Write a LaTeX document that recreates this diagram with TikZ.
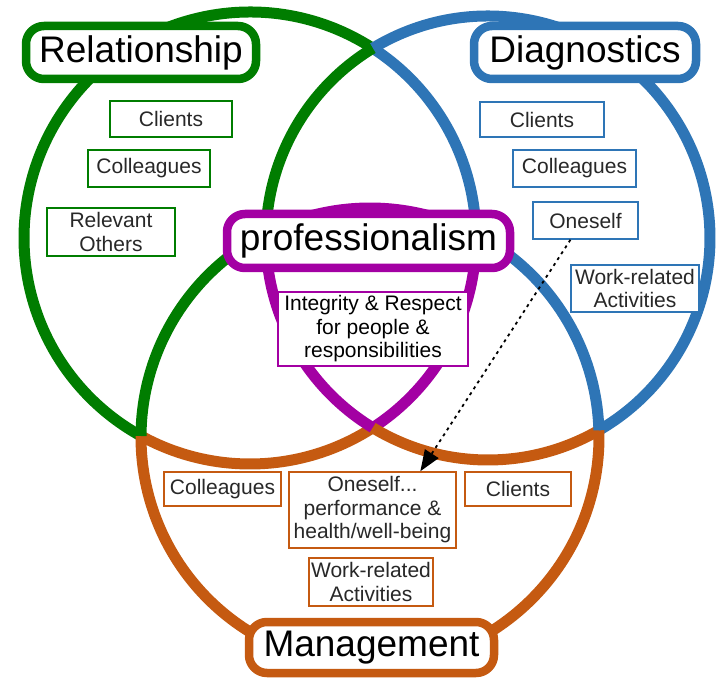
\documentclass[tikz,border=0pt]{standalone}
\usepackage{fontspec}
\setmainfont{Liberation Sans}
\usetikzlibrary{arrows.meta,calc}

\definecolor{relgreen}{RGB}{0,125,0}
\definecolor{diagblue}{RGB}{46,117,182}
\definecolor{mgmtorange}{RGB}{197,90,17}
\definecolor{profmag}{RGB}{163,0,163}
\definecolor{textgray}{RGB}{40,40,40}

% one coloured piece of a ring: colour, centre, start angle, end angle, radius
\newcommand{\ringarc}[5]{%
  \draw[ring,#1] ([shift={(#3:#5)}]#2) arc[start angle=#3, end angle=#4, radius=#5];}

\begin{document}
\begin{tikzpicture}[x=1pt,y=-1pt,
  ring/.style={line width=11pt},
  title/.style={draw=#1, line width=8.5pt, fill=white, rounded corners=18pt,
    inner sep=0pt, font=\fontsize{37}{44}\selectfont, text=black},
  item/.style={draw=#1, line width=1.5pt, fill=white, inner sep=0pt,
    align=center, font=\fontsize{21}{23.5}\selectfont, text=textgray},
  link/.style={line width=1.8pt, dash pattern=on 3pt off 4pt,
    -{Triangle[length=21pt,width=16pt]}},
]
\useasboundingbox (0,0) rectangle (716,679);

% centres of the three circles
\coordinate (cG) at (250,238);   % Relationship, r = 226
\coordinate (cB) at (488,238);   % Diagnostics,  r = 222
\coordinate (cM) at (370,437);   % Management,   r = 229

% Relationship circle
\ringarc{relgreen}{cG}{-57.1}{-241.17}{226}
\ringarc{diagblue}{cG}{-57.1}{-1.01}{226}
\ringarc{profmag}{cG}{-1.01}{57.1}{226}
\ringarc{mgmtorange}{cG}{57.1}{118.83}{226}

% Diagnostics circle
\ringarc{diagblue}{cB}{-121.27}{60.03}{222}
\ringarc{relgreen}{cB}{-121.27}{-178.71}{222}
\ringarc{profmag}{cB}{181.29}{121.27}{222}
\ringarc{mgmtorange}{cB}{121.27}{60.03}{222}

% Management circle
\ringarc{mgmtorange}{cM}{-1.68}{180.25}{229}
\ringarc{relgreen}{cM}{180.25}{243.0}{229}
\ringarc{profmag}{cM}{243.0}{297.56}{229}
\ringarc{diagblue}{cM}{297.56}{358.32}{229}

% circle titles
\node[title=relgreen, minimum width=230pt, minimum height=53pt] (rel) at (141,52.5) {Relationship};
\node[title=diagblue, minimum width=222pt, minimum height=53pt] (diag) at (585,52.5) {Diagnostics};
\node[title=profmag, minimum width=283pt, minimum height=54pt] (prof) at (368.5,241) {professionalism};
\node[title=mgmtorange, minimum width=245pt, minimum height=51pt] (mgmt) at (371.5,647.5) {Management};

% Relationship items
\node[item=relgreen, minimum width=122pt, minimum height=36pt] (r1) at (171,119) {Clients};
\node[item=relgreen, minimum width=122pt, minimum height=37pt] (r2) at (149,168.5) {Colleagues};
\node[item=relgreen, minimum width=128pt, minimum height=48pt] (r3) at (111,232) {Relevant\\Others};

% Diagnostics items
\node[item=diagblue, minimum width=124pt, minimum height=35pt] (d1) at (542,119.5) {Clients};
\node[item=diagblue, minimum width=123pt, minimum height=37pt] (d2) at (574.5,168.5) {Colleagues};
\node[item=diagblue, minimum width=105pt, minimum height=37pt] (d3) at (585.5,220.5) {Oneself};
\node[item=diagblue, minimum width=128pt, minimum height=47pt] (d4) at (635,288.5) {Work-related\\Activities};

% core of professionalism
\node[item=profmag, text=black, minimum width=190pt, minimum height=74pt] (p1) at (373,329)
  {Integrity \& Respect\\for people \&\\responsibilities};

% Management items
\node[item=mgmtorange, minimum width=117pt, minimum height=34pt] (m1) at (222.5,489) {Colleagues};
\node[item=mgmtorange, minimum width=167pt, minimum height=76pt] (m2) at (372.5,510)
  {Oneself...\\performance \&\\health/well-being};
\node[item=mgmtorange, minimum width=106pt, minimum height=34pt] (m3) at (518,489) {Clients};
\node[item=mgmtorange, minimum width=124pt, minimum height=48pt] (m4) at (371,582) {Work-related\\Activities};

% self-diagnosis feeds self-management
\draw[link] (d3.232) -- (m2.39);
\end{tikzpicture}
\end{document}
